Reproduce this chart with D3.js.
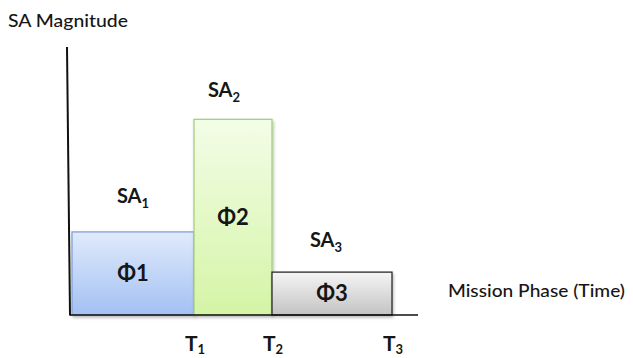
<!DOCTYPE html>
<html><head><meta charset="utf-8">
<script src="https://cdn.jsdelivr.net/npm/d3@7"></script>
<style>body{margin:0;background:#fff}svg{display:block}</style>
</head><body>
<script>
// ---- data ----
const phases = ["Φ1", "Φ2", "Φ3"];
const saNames = ["1", "2", "3"];          // SA subscripts
const phaseEnds = [3.05, 5.0, 8.0];        // T1, T2, T3 (time units)
const saMagnitude = [3.1, 7.3, 1.6];       // SA magnitude per phase
const timeTicks = ["1", "2", "3"];         // T subscripts
const axisTitleY = "SA Magnitude";
const axisTitleX = "Mission Phase (Time)";

// ---- layout ----
const W = 633, H = 358;
const x0 = 72, yBase = 315;
const x = d3.scaleLinear().domain([0, 10]).range([x0, x0 + 400]);
const y = d3.scaleLinear().domain([0, 10]).range([yBase, 47]);
const saNudge = [[0, -29], [-9, -22], [-6, -25]];

const fills = [
  {id: "gBlue", top: "#e0eafb", bot: "#a3c1f3", stroke: "#7ea3db"},
  {id: "gGreen", top: "#f3fde7", bot: "#d5f4a6", stroke: "#a8cf7c"},
  {id: "gGray", top: "#f5f5f5", bot: "#c3c3c3", stroke: "#2a2a2a"}
];

const svg = d3.select("body").append("svg").attr("width", W).attr("height", H);
const defs = svg.append("defs");
fills.forEach(f => {
  const g = defs.append("linearGradient").attr("id", f.id)
    .attr("x1", 0).attr("y1", 0).attr("x2", 0).attr("y2", 1);
  g.append("stop").attr("offset", "0%").attr("stop-color", f.top);
  g.append("stop").attr("offset", "100%").attr("stop-color", f.bot);
});
const flt = defs.append("filter").attr("id", "shadow")
  .attr("x", "-10%").attr("y", "-10%").attr("width", "130%").attr("height", "130%");
flt.append("feDropShadow").attr("dx", 1).attr("dy", 2).attr("stdDeviation", 1.5)
  .attr("flood-color", "#000").attr("flood-opacity", 0.28);

const starts = [0].concat(phaseEnds.slice(0, -1));
const data = phases.map((p, i) => ({p, i, s: starts[i], e: phaseEnds[i], v: saMagnitude[i]}));

// bars
svg.append("g").selectAll("rect").data(data).join("rect")
  .attr("x", d => x(d.s)).attr("y", d => y(d.v))
  .attr("width", d => x(d.e) - x(d.s)).attr("height", d => y(0) - y(d.v))
  .attr("fill", d => `url(#${fills[d.i].id})`)
  .attr("stroke", d => fills[d.i].stroke).attr("stroke-width", 1.3)
  .attr("filter", "url(#shadow)");

// axes
svg.append("line").attr("x1", 67).attr("y1", y(10)).attr("x2", 70).attr("y2", y(0) + 0.5)
  .attr("stroke", "#111").attr("stroke-width", 2);
svg.append("line").attr("x1", 70).attr("y1", y(0)).attr("x2", x(8.65)).attr("y2", y(0))
  .attr("stroke", "#111").attr("stroke-width", 1.5);

const font = "Lato, 'Open Sans', 'DejaVu Sans', sans-serif";
const ink = "#161616";

// phase labels
svg.append("g").selectAll("text").data(data).join("text")
  .attr("x", d => (x(d.s) + x(d.e)) / 2)
  .attr("y", d => (y(d.v) + y(0)) / 2)
  .attr("dy", "0.36em")
  .attr("text-anchor", "middle")
  .attr("font-family", font).attr("font-weight", "bold").attr("font-size", 22)
  .attr("fill", ink).text(d => d.p);

// SA labels
const sa = svg.append("g").selectAll("text").data(data).join("text")
  .attr("x", d => (x(d.s) + x(d.e)) / 2 + saNudge[d.i][0])
  .attr("y", d => y(d.v) + saNudge[d.i][1])
  .attr("text-anchor", "middle")
  .attr("font-family", font).attr("font-weight", "bold").attr("font-size", 20)
  .attr("fill", ink);
sa.append("tspan").text("SA");
sa.append("tspan").attr("dy", 5).attr("font-size", 13).text(d => saNames[d.i]);

// T tick labels
const tl = svg.append("g").selectAll("text").data(phaseEnds).join("text")
  .attr("x", d => x(d) + 1).attr("y", 351)
  .attr("text-anchor", "middle")
  .attr("font-family", font).attr("font-weight", "bold").attr("font-size", 21)
  .attr("fill", ink);
tl.append("tspan").text("T");
tl.append("tspan").attr("dy", 3).attr("font-size", 13).text((d, i) => timeTicks[i]);

// axis titles
svg.append("text").attr("x", 8).attr("y", 27)
  .attr("font-family", font).attr("font-size", 17).attr("font-weight", 500).attr("fill", ink)
  .attr("textLength", 120).attr("lengthAdjust", "spacingAndGlyphs")
  .text(axisTitleY);
svg.append("text").attr("x", 448).attr("y", 297)
  .attr("font-family", font).attr("font-size", 17).attr("font-weight", 500).attr("fill", ink)
  .attr("textLength", 177).attr("lengthAdjust", "spacingAndGlyphs")
  .text(axisTitleX);
</script>
</body></html>
